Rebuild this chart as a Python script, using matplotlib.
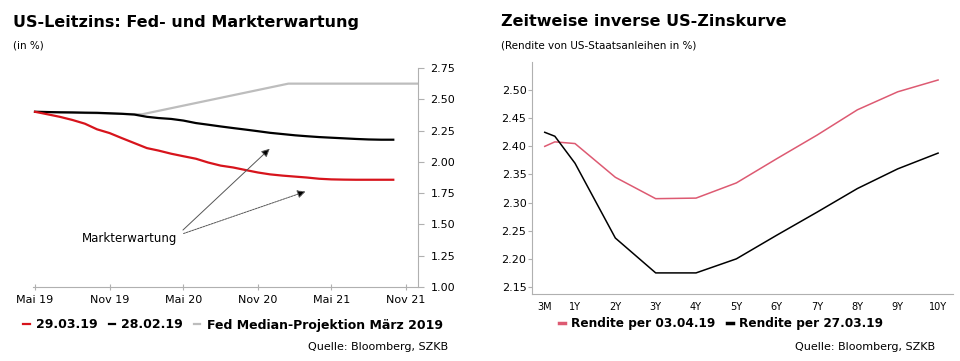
import matplotlib
matplotlib.use("Agg")
import matplotlib.pyplot as plt
import numpy as np
import pandas as pd

# --- Left chart: US-Leitzins, Fed- und Markterwartung ---
months = pd.date_range("2019-05-01", periods=30, freq="MS")
red_2903 = [2.40, 2.38, 2.36, 2.335, 2.305, 2.26, 2.23, 2.19, 2.15, 2.11,
            2.09, 2.065, 2.045, 2.025, 1.995, 1.97, 1.955, 1.935, 1.915, 1.90,
            1.89, 1.882, 1.875, 1.865, 1.86, 1.858, 1.857, 1.857, 1.857, 1.857]
black_2802 = [2.40, 2.398, 2.396, 2.395, 2.393, 2.392, 2.388, 2.384, 2.378, 2.36,
              2.35, 2.343, 2.33, 2.31, 2.297, 2.283, 2.27, 2.258, 2.245, 2.232,
              2.222, 2.212, 2.205, 2.198, 2.193, 2.188, 2.183, 2.179, 2.177, 2.177]
fed_dates = pd.to_datetime(["2019-05-01", "2020-01-20", "2021-01-15", "2021-12-01"])
fed_median = [2.40, 2.38, 2.625, 2.625]
left_ticks = pd.to_datetime(["2019-05-01", "2019-11-01", "2020-05-01",
                             "2020-11-01", "2021-05-01", "2021-11-01"])
left_ticklabels = ["Mai 19", "Nov 19", "Mai 20", "Nov 20", "Mai 21", "Nov 21"]

# --- Right chart: Zinskurve ---
maturities = [0.25, 0.5, 1, 2, 3, 4, 5, 6, 7, 8, 9, 10]
yield_0304 = [2.40, 2.408, 2.405, 2.345, 2.307, 2.308, 2.335, 2.378, 2.42, 2.465, 2.497, 2.518]
yield_2703 = [2.425, 2.418, 2.37, 2.237, 2.175, 2.175, 2.20, 2.242, 2.283, 2.325, 2.36, 2.388]
right_ticks = [0.25, 1, 2, 3, 4, 5, 6, 7, 8, 9, 10]
right_ticklabels = ["3M", "1Y", "2Y", "3Y", "4Y", "5Y", "6Y", "7Y", "8Y", "9Y", "10Y"]

RED = "#d7141c"
PINK = "#dd5a72"
GRAY = "#bdbdbd"
SPINE = "#b0b0b0"

plt.rcParams['font.family'] = ['DejaVu Sans']

fig = plt.figure(figsize=(9.6, 3.61), dpi=100)

# left axes
ax1 = fig.add_axes([33/960, 1 - 287/361, (418-33)/960, (287-68)/361])
ax1.plot(fed_dates, fed_median, color=GRAY, lw=1.6, label="Fed Median-Projektion März 2019")
ax1.plot(months, black_2802, color="black", lw=1.6, label="28.02.19")
ax1.plot(months, red_2903, color=RED, lw=1.6, label="29.03.19")
ax1.set_xlim(pd.Timestamp("2019-04-26"), pd.Timestamp("2021-12-01"))
ax1.set_ylim(1.0, 2.75)
ax1.set_yticks(np.arange(1.0, 2.76, 0.25))
ax1.set_yticklabels([f"{v:.2f}" for v in np.arange(1.0, 2.76, 0.25)])
ax1.yaxis.tick_right()
ax1.set_xticks(left_ticks)
ax1.set_xticklabels(left_ticklabels)
for s in ["left", "top"]:
    ax1.spines[s].set_visible(False)
for s in ["right", "bottom"]:
    ax1.spines[s].set_color(SPINE)
ax1.tick_params(axis="y", colors=SPINE, labelcolor="black", labelsize=8, length=4, pad=5)
ax1.tick_params(axis="x", colors=SPINE, labelcolor="black", labelsize=8, length=4,
                direction="inout", pad=4)

ax1.annotate("", xy=(pd.Timestamp("2020-12-05"), 2.12),
             xytext=(pd.Timestamp("2020-04-25"), 1.44),
             arrowprops=dict(arrowstyle="-|>", color="#555555", lw=0.7,
                             mutation_scale=12, fc="black"))
ax1.annotate("", xy=(pd.Timestamp("2021-03-05"), 1.77),
             xytext=(pd.Timestamp("2020-04-25"), 1.42),
             arrowprops=dict(arrowstyle="-|>", color="#555555", lw=0.7, ls=(0, (2, 1)),
                             mutation_scale=12, fc="black"))
ax1.text(pd.Timestamp("2019-12-20"), 1.39, "Markterwartung", ha="center", va="center",
         fontsize=8.5)

# right axes
ax2 = fig.add_axes([532/960, 1 - 294/361, (953-532)/960, (294-62)/361])
ax2.plot(maturities, yield_0304, color=PINK, lw=1.1, label="Rendite per 03.04.19")
ax2.plot(maturities, yield_2703, color="black", lw=1.1, label="Rendite per 27.03.19")
ax2.set_xlim(-0.066, 10.37)
ax2.set_ylim(2.1375, 2.55)
ax2.set_yticks(np.arange(2.15, 2.51, 0.05))
ax2.set_yticklabels([f"{v:.2f}" for v in np.arange(2.15, 2.51, 0.05)])
ax2.set_xticks(right_ticks)
ax2.set_xticklabels(right_ticklabels)
for s in ["right", "top"]:
    ax2.spines[s].set_visible(False)
for s in ["left", "bottom"]:
    ax2.spines[s].set_color(SPINE)
ax2.tick_params(axis="y", colors=SPINE, labelcolor="black", labelsize=8, length=3, pad=1)
ax2.tick_params(axis="x", colors=SPINE, labelcolor="black", labelsize=7, length=0, pad=6)

# titles
fig.text(13/960, 1 - 22/361, "US-Leitzins: Fed- und Markterwartung", fontsize=11.5,
         fontweight="bold", va="center", ha="left")
fig.text(13/960, 1 - 46/361, "(in %)", fontsize=7.5, va="center", ha="left")
fig.text(501/960, 1 - 22/361, "Zeitweise inverse US-Zinskurve", fontsize=11.5,
         fontweight="bold", va="center", ha="left")
fig.text(501/960, 1 - 46/361, "(Rendite von US-Staatsanleihen in %)", fontsize=7.5,
         va="center", ha="left")

# legends
h1, l1 = ax1.get_legend_handles_labels()
order = [2, 1, 0]
fig.legend([h1[i] for i in order], [l1[i] for i in order], loc="center left",
           bbox_to_anchor=(12/960, 1 - 325/361), ncol=3, frameon=False,
           handlelength=0.5, handletextpad=0.5, columnspacing=0.9,
           prop=dict(size=9, weight="bold"))
h2, l2 = ax2.get_legend_handles_labels()
leg2 = fig.legend(h2, l2, loc="center left", bbox_to_anchor=(548/960, 1 - 324/361),
                  ncol=2, frameon=False, handlelength=0.5, handletextpad=0.5,
                  columnspacing=1.0, prop=dict(size=8.7, weight="bold"))
for line in leg2.get_lines():
    line.set_linewidth(2.5)

fig.text(448/960, 1 - 347/361, "Quelle: Bloomberg, SZKB", fontsize=8, ha="right", va="center")
fig.text(935/960, 1 - 347/361, "Quelle: Bloomberg, SZKB", fontsize=8, ha="right", va="center")

fig.savefig("out.png", dpi=100)
